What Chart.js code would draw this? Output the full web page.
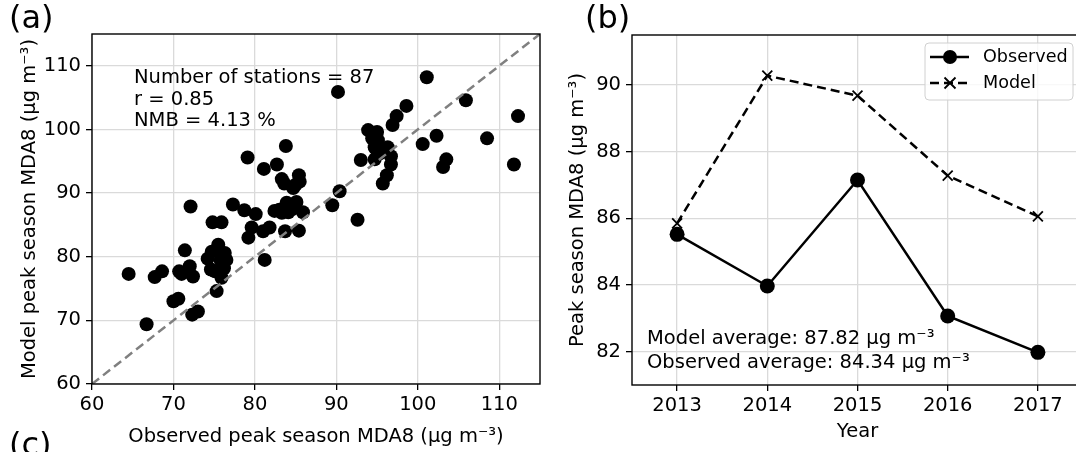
<!DOCTYPE html>
<html>
<head>
<meta charset="utf-8">
<script src="https://cdn.jsdelivr.net/npm/chart.js@4.4.1/dist/chart.umd.min.js"></script>
<style>
    html, body { margin: 0; padding: 0; background: #fff; overflow: hidden; width: 1076px; height: 452px; }
    .panel { position: absolute; top: 0; }
    .lab { position: absolute; font-family: 'DejaVu Sans'; font-size: 32px; color: #000; line-height: 1; }
</style>
</head>
<body>
<div class="panel" style="left:0px;width:560px;height:452px"><canvas id="scatterChart"></canvas></div>
<div class="panel" style="left:560px;width:560px;height:452px"><canvas id="yearChart"></canvas></div>
<div class="lab" style="left:9px;top:1px">(a)</div>
<div class="lab" style="left:585px;top:1px">(b)</div>
<div class="lab" style="left:9px;top:428px">(c)</div>
<script>
// --- data: panel (a), station peak season MDA8 (observed vs model)
const obsPeak = [64.5, 66.7, 67.7, 68.6, 70.0, 70.6, 70.7, 71.0, 71.4, 72.0, 72.1, 72.3, 72.4, 73.0,
    74.2, 74.7, 74.8, 75.1, 75.3, 75.5, 75.6, 75.9, 75.9, 76.2, 76.3, 76.5, 77.3, 78.7, 79.1, 79.2,
    79.6, 80.1, 81.0, 81.1, 81.2, 81.8, 82.4, 82.7, 83.0, 83.3, 83.6, 83.7, 83.8, 83.9, 84.1, 84.3,
    84.7, 85.0, 85.1, 85.4, 85.4, 85.5, 85.9, 89.5, 90.2, 90.4, 92.6, 93.0, 93.9, 94.4, 94.7, 94.7,
    95.0, 95.3, 95.7, 96.2, 96.3, 96.7, 96.7, 96.9, 97.4, 98.6, 100.6, 101.1, 102.3, 103.1, 103.5,
    105.9, 108.5, 111.8, 112.3, 74.6, 75.8, 83.3, 84.6, 94.9, 95.1];
const modelPeak = [77.3, 69.4, 76.8, 77.7, 73.0, 73.4, 77.7, 77.3, 81.0, 78.5, 87.9, 70.9, 76.9, 71.4,
    79.7, 80.8, 85.4, 77.7, 74.6, 81.9, 80.8, 85.4, 76.7, 78.2, 80.6, 79.5, 88.2, 87.3, 95.6, 83.0,
    84.6, 86.7, 84.0, 93.8, 79.5, 84.6, 87.2, 94.5, 87.4, 92.2, 91.5, 84.0, 97.4, 88.5, 87.0, 88.1,
    90.8, 91.3, 88.6, 84.1, 92.8, 91.8, 87.0, 88.1, 105.9, 90.3, 85.8, 95.2, 99.9, 98.6, 97.2, 95.3,
    99.6, 96.2, 91.5, 92.8, 97.2, 95.8, 94.5, 100.7, 102.1, 103.7, 97.7, 108.2, 99.0, 94.1, 95.3,
    104.6, 98.6, 94.5, 102.1, 78.0, 79.4, 86.9, 87.5, 96.9, 98.3];
const oneToOne = [60, 115];
const scatterTicks = [60, 70, 80, 90, 100, 110];
const scatterNotes = ['Number of stations = 87', 'r = 0.85', 'NMB = 4.13 %'];

// --- data: panel (b), yearly averages
const years = [2013, 2014, 2015, 2016, 2017];
const observedYearly = [85.52, 83.97, 87.15, 83.07, 81.98];
const modelYearly = [85.85, 90.28, 89.68, 87.28, 86.06];
const yearTicksY = [82, 84, 86, 88, 90];
const yearNotes = ['Model average: 87.82 \u03bcg m\u207b\u00b3', 'Observed average: 84.34 \u03bcg m\u207b\u00b3'];

const FS = 19.5;
Chart.defaults.font.family = 'DejaVu Sans';
Chart.defaults.font.size = FS;
Chart.defaults.color = '#000';
Chart.defaults.animation = false;

const GRID = '#dadada';

// frame around the plot area + text notes
const framePlugin = {
    id: 'frame',
    afterDraw(chart, args, opts) {
        const ctx = chart.ctx, a = chart.chartArea;
        ctx.save();
        if (opts.lines) {
            ctx.font = FS + 'px "DejaVu Sans"';
            ctx.fillStyle = '#000';
            ctx.textBaseline = 'middle';
            opts.lines.forEach(function (t, i) {
                ctx.fillText(t, a.left + opts.dx, a.top + opts.dy + i * opts.step);
            });
        }
        ctx.strokeStyle = '#000';
        ctx.lineWidth = 1.4;
        ctx.strokeRect(a.left, a.top, a.right - a.left, a.bottom - a.top);
        ctx.restore();
    }
};

// legend with line + marker samples
const legendPlugin = {
    id: 'lineLegend',
    afterDraw(chart, args, opts) {
        if (!opts.show) return;
        const ctx = chart.ctx, a = chart.chartArea;
        const w = 148, h = 57;
        const x0 = a.right - 10 - w, y0 = a.top + 8;
        ctx.save();
        ctx.fillStyle = 'rgba(255,255,255,0.8)';
        ctx.strokeStyle = '#d0d0d0';
        ctx.lineWidth = 1;
        ctx.beginPath();
        ctx.roundRect(x0, y0, w, h, 4);
        ctx.fill();
        ctx.stroke();
        opts.items.forEach(function (it, i) {
            const cy = y0 + 14 + i * 26;
            ctx.strokeStyle = '#000';
            ctx.lineWidth = 2.5;
            ctx.setLineDash(it.dash);
            ctx.beginPath();
            ctx.moveTo(x0 + 5, cy);
            ctx.lineTo(x0 + 44, cy);
            ctx.stroke();
            ctx.setLineDash([]);
            const mx = x0 + 25;
            if (it.marker === 'circle') {
                ctx.fillStyle = '#000';
                ctx.beginPath();
                ctx.arc(mx, cy, 7, 0, Math.PI * 2);
                ctx.fill();
            } else {
                ctx.lineWidth = 1.8;
                ctx.beginPath();
                ctx.moveTo(mx - 5.5, cy - 5.5); ctx.lineTo(mx + 5.5, cy + 5.5);
                ctx.moveTo(mx - 5.5, cy + 5.5); ctx.lineTo(mx + 5.5, cy - 5.5);
                ctx.stroke();
            }
            ctx.fillStyle = '#000';
            ctx.font = '17.6px "DejaVu Sans"';
            ctx.textBaseline = 'middle';
            ctx.fillText(it.label, x0 + 58, cy);
        });
        ctx.restore();
    }
};

function fixedTicks(list) {
    return function (scale) {
        scale.ticks = list.map(function (v) { return { value: v }; });
    };
}

// panel (a)
new Chart(document.getElementById('scatterChart'), {
    type: 'scatter',
    data: {
        datasets: [{
            type: 'line',
            data: oneToOne.map(function (v) { return { x: v, y: v }; }),
            borderColor: '#808080',
            borderDash: [9, 5],
            borderWidth: 2.5,
            pointRadius: 0
        }, {
            data: obsPeak.map(function (v, i) { return { x: v, y: modelPeak[i] }; }),
            backgroundColor: '#000',
            borderWidth: 0,
            pointRadius: 7
        }]
    },
    options: {
        responsive: true,
        maintainAspectRatio: false,
        layout: { padding: { top: 34, right: 20, left: 0, bottom: 0 } },
        plugins: {
            legend: { display: false },
            tooltip: { enabled: false },
            frame: { lines: scatterNotes, dx: 42, dy: 44, step: 21.5 },
            lineLegend: { show: false }
        },
        scales: {
            x: {
                type: 'linear', min: 60, max: 115,
                afterBuildTicks: fixedTicks(scatterTicks),
                afterFit: function (s) { s.height = 68; },
                grid: { color: GRID, tickColor: '#000', tickLength: 6, lineWidth: 1.3 },
                border: { display: false },
                ticks: { padding: 3 },
                title: { display: true, text: 'Observed peak season MDA8 (\u03bcg m\u207b\u00b3)', padding: { top: 0, bottom: 3 } }
            },
            y: {
                type: 'linear', min: 60, max: 115,
                afterBuildTicks: fixedTicks(scatterTicks),
                afterFit: function (s) { s.width = 92; },
                grid: { color: GRID, tickColor: '#000', tickLength: 6, lineWidth: 1.3 },
                border: { display: false },
                ticks: { padding: 5 },
                title: { display: true, text: 'Model peak season MDA8 (\u03bcg m\u207b\u00b3)', padding: { top: 18, bottom: 0 } }
            }
        }
    },
    plugins: [framePlugin, legendPlugin]
});

// panel (b)
new Chart(document.getElementById('yearChart'), {
    type: 'line',
    data: {
        datasets: [{
            label: 'Model',
            data: years.map(function (y, i) { return { x: y, y: modelYearly[i] }; }),
            borderColor: '#000',
            borderWidth: 2.5,
            borderDash: [9, 5],
            pointStyle: 'crossRot',
            pointRadius: 7,
            pointBorderWidth: 1.8,
            pointBorderColor: '#000',
            order: 0
        }, {
            label: 'Observed',
            data: years.map(function (y, i) { return { x: y, y: observedYearly[i] }; }),
            borderColor: '#000',
            borderWidth: 2.5,
            pointRadius: 7.5,
            pointBackgroundColor: '#000',
            pointBorderWidth: 0,
            order: 1
        }]
    },
    options: {
        responsive: true,
        maintainAspectRatio: false,
        layout: { padding: { top: 35, right: 37, left: 0, bottom: 0 } },
        plugins: {
            legend: { display: false },
            tooltip: { enabled: false },
            frame: { lines: yearNotes, dx: 15, dy: 304, step: 23.5 },
            lineLegend: {
                show: true,
                items: [{ label: 'Observed', dash: [], marker: 'circle' }, { label: 'Model', dash: [9, 5], marker: 'x' }]
            }
        },
        scales: {
            x: {
                type: 'linear', min: 2012.5, max: 2017.5,
                afterBuildTicks: fixedTicks(years),
                afterFit: function (s) { s.height = 67; },
                grid: { color: GRID, tickColor: '#000', tickLength: 6, lineWidth: 1.3 },
                border: { display: false },
                ticks: { padding: 3, callback: function (v) { return String(v); } },
                title: { display: true, text: 'Year', padding: { top: 0, bottom: 8 } }
            },
            y: {
                type: 'linear', min: 81.0, max: 91.5,
                afterBuildTicks: fixedTicks(yearTicksY),
                afterFit: function (s) { s.width = 72; },
                grid: { color: GRID, tickColor: '#000', tickLength: 6, lineWidth: 1.3 },
                border: { display: false },
                ticks: { padding: 5 },
                title: { display: true, text: 'Peak season MDA8 (\u03bcg m\u207b\u00b3)', padding: { top: 6, bottom: 0 } }
            }
        }
    },
    plugins: [framePlugin, legendPlugin]
});
</script>
</body>
</html>
